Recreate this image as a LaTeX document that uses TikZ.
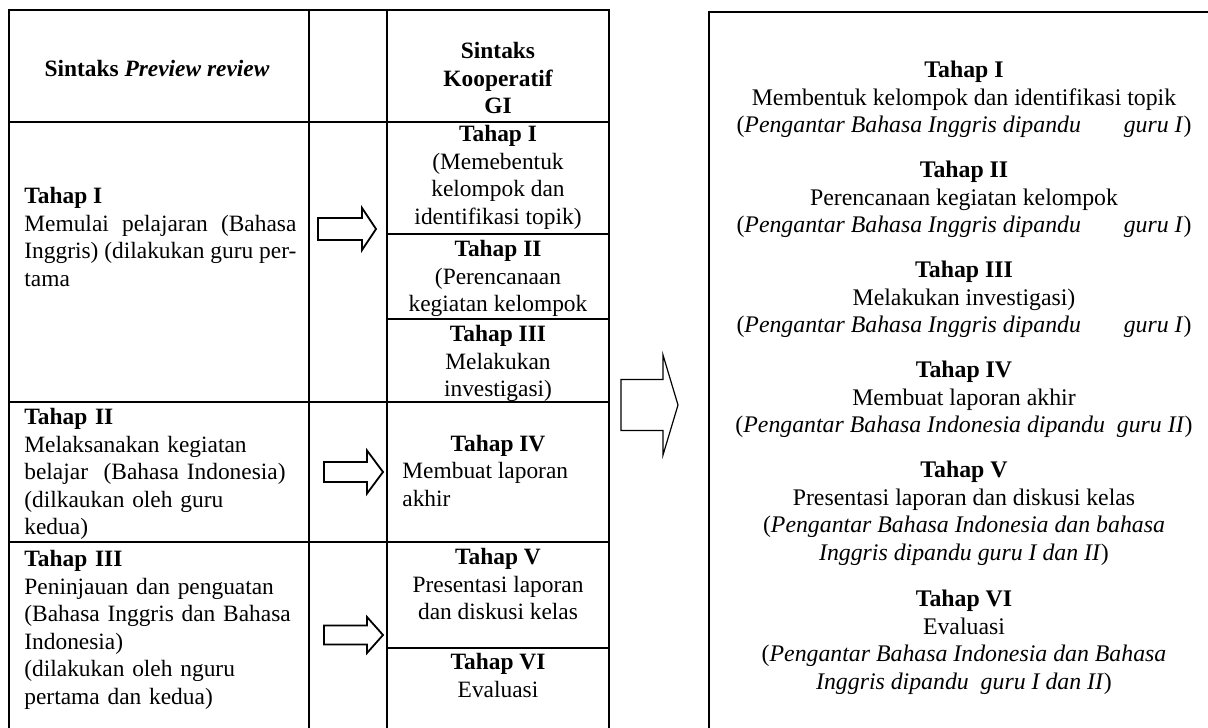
\documentclass[tikz,border=0pt]{standalone}
\usepackage{fontspec}
\setmainfont{Liberation Serif}
\usepackage{tikz}

\begin{document}
\begin{tikzpicture}[
    x=0.5pt, y=-0.5pt,
    line join=miter,
    tabline/.style={line width=0.6pt},
    boxline/.style={line width=1pt},
    blockarrow/.style={draw, line width=0.9pt},
    bigarrow/.style={draw, line width=0.6pt},
    celltext/.style={inner sep=0pt, font=\fontsize{11.7}{13.75}\selectfont},
    stagetext/.style={inner sep=0pt, align=center, font=\fontsize{11.9}{13.75}\selectfont}
]
    \useasboundingbox (0,0) rectangle (1208,727);
    \clip (0,0) rectangle (1208,727);

    % --- Coordinates ---
    % Table corners
    \coordinate (t_nw) at (9,10);
    \coordinate (t_ne) at (609,10);
    \coordinate (t_sw) at (9,740);
    \coordinate (t_se) at (609,740);

    % Arrow tails (centre of the left end)
    \coordinate (arr_one)   at (318,229);
    \coordinate (arr_two)   at (324,472);
    \coordinate (arr_three) at (324,635);
    \coordinate (arr_big)   at (621,405);

    % --- Table grid ---
    \draw[tabline] (t_sw) -- (t_nw) -- (t_ne) -- (t_se);
    \draw[tabline] (309,10) -- (309,740);
    \draw[tabline] (387,10) -- (387,740);
    \draw[tabline] (9,122) -- (609,122);
    \draw[tabline] (9,402) -- (609,402);
    \draw[tabline] (9,542) -- (609,542);
    \draw[tabline] (387,234) -- (609,234);
    \draw[tabline] (387,319) -- (609,319);
    \draw[tabline] (387,648) -- (609,648);

    % --- Result box ---
    \draw[boxline] (709,12) rectangle (1220,740);

    % --- Block arrows ---
    \draw[blockarrow] (arr_one) ++(0,-11) -- ++(44,0) -- ++(0,-10) -- ++(14,21)
        -- ++(-14,21) -- ++(0,-10) -- ++(-44,0) -- cycle;
    \draw[blockarrow] (arr_two) ++(0,-10) -- ++(43,0) -- ++(0,-11.5) -- ++(16,21.5)
        -- ++(-16,21.5) -- ++(0,-11.5) -- ++(-43,0) -- cycle;
    \draw[blockarrow] (arr_three) ++(0,-9.5) -- ++(43,0) -- ++(0,-8.5) -- ++(16,18)
        -- ++(-16,18) -- ++(0,-8.5) -- ++(-43,0) -- cycle;
    \draw[bigarrow] (arr_big) ++(0,-25.5) -- ++(42,0) -- ++(0,-24.5) -- ++(15,50)
        -- ++(-15,50) -- ++(0,-24.5) -- ++(-42,0) -- cycle;

    % --- Column: Preview review ---
    \node[celltext, font=\fontsize{11.7}{13.75}\bfseries] (pr_head) at (157,68)
        {Sintaks \textit{Preview review}};
    \node[celltext, anchor=north west, text width=136pt, align=justify] (pr_one) at (24,187)
        {\textbf{Tahap I}\\Memulai pelajaran (Bahasa\linebreak Inggris) (dilakukan guru per-\linebreak tama};
    \node[celltext, anchor=north west, text width=136pt, align=left] (pr_two) at (24,408)
        {\textbf{Tahap II}\\Melaksanakan kegiatan\\belajar\ \ (Bahasa Indonesia)\\(dilkaukan oleh guru\\kedua)};
    \node[celltext, anchor=north west, text width=136pt, align=left] (pr_three) at (24,550)
        {\textbf{Tahap III}\\Peninjauan dan penguatan\\(Bahasa Inggris dan Bahasa\\Indonesia)\\(dilakukan oleh nguru\\pertama dan kedua)};

    % --- Column: Kooperatif GI ---
    \node[celltext, anchor=north, align=center, font=\fontsize{11.7}{13.75}\bfseries] (gi_head) at (498,42)
        {Sintaks\\Kooperatif\\GI};
    \node[celltext, anchor=north, align=center] (gi_one) at (498,125)
        {\textbf{Tahap I}\\(Memebentuk\\kelompok dan\\identifikasi topik)};
    \node[celltext, anchor=north, align=center] (gi_two) at (498,240)
        {\textbf{Tahap II}\\(Perencanaan\\kegiatan kelompok};
    \node[celltext, anchor=north, align=center] (gi_three) at (498,325)
        {\textbf{Tahap III}\\Melakukan\\investigasi)};
    \node[celltext, anchor=north, align=center] (gi_four) at (498,435)
        {\textbf{Tahap IV}};
    \node[celltext, anchor=north west, align=left] (gi_four_txt) at (402,462)
        {Membuat laporan\\akhir};
    \node[celltext, anchor=north, align=center] (gi_five) at (498,548)
        {\textbf{Tahap V}\\Presentasi laporan\\dan diskusi kelas};
    \node[celltext, anchor=north, align=center] (gi_six) at (498,653)
        {\textbf{Tahap VI}\\Evaluasi};

    % --- Result box: stages ---
    \node[stagetext, anchor=north] (st_one) at (964,61)
        {\textbf{Tahap I}\\Membentuk kelompok dan identifikasi topik\\(\textit{Pengantar Bahasa Inggris dipandu\hspace{1.8em}guru I})};
    \node[stagetext, anchor=north] (st_two) at (964,161)
        {\textbf{Tahap II}\\Perencanaan kegiatan kelompok\\(\textit{Pengantar Bahasa Inggris dipandu\hspace{1.8em}guru I})};
    \node[stagetext, anchor=north] (st_three) at (964,261)
        {\textbf{Tahap III}\\Melakukan investigasi)\\(\textit{Pengantar Bahasa Inggris dipandu\hspace{1.8em}guru I})};
    \node[stagetext, anchor=north] (st_four) at (964,361)
        {\textbf{Tahap IV}\\Membuat laporan akhir\\(\textit{Pengantar Bahasa Indonesia dipandu\ \ guru II})};
    \node[stagetext, anchor=north] (st_five) at (964,461)
        {\textbf{Tahap V}\\Presentasi laporan dan diskusi kelas\\(\textit{Pengantar Bahasa Indonesia dan bahasa}\\\textit{Inggris dipandu guru I dan II})};
    \node[stagetext, anchor=north] (st_six) at (964,590)
        {\textbf{Tahap VI}\\Evaluasi\\(\textit{Pengantar Bahasa Indonesia dan Bahasa}\\\textit{Inggris dipandu\ \ guru I dan II})};

\end{tikzpicture}
\end{document}
